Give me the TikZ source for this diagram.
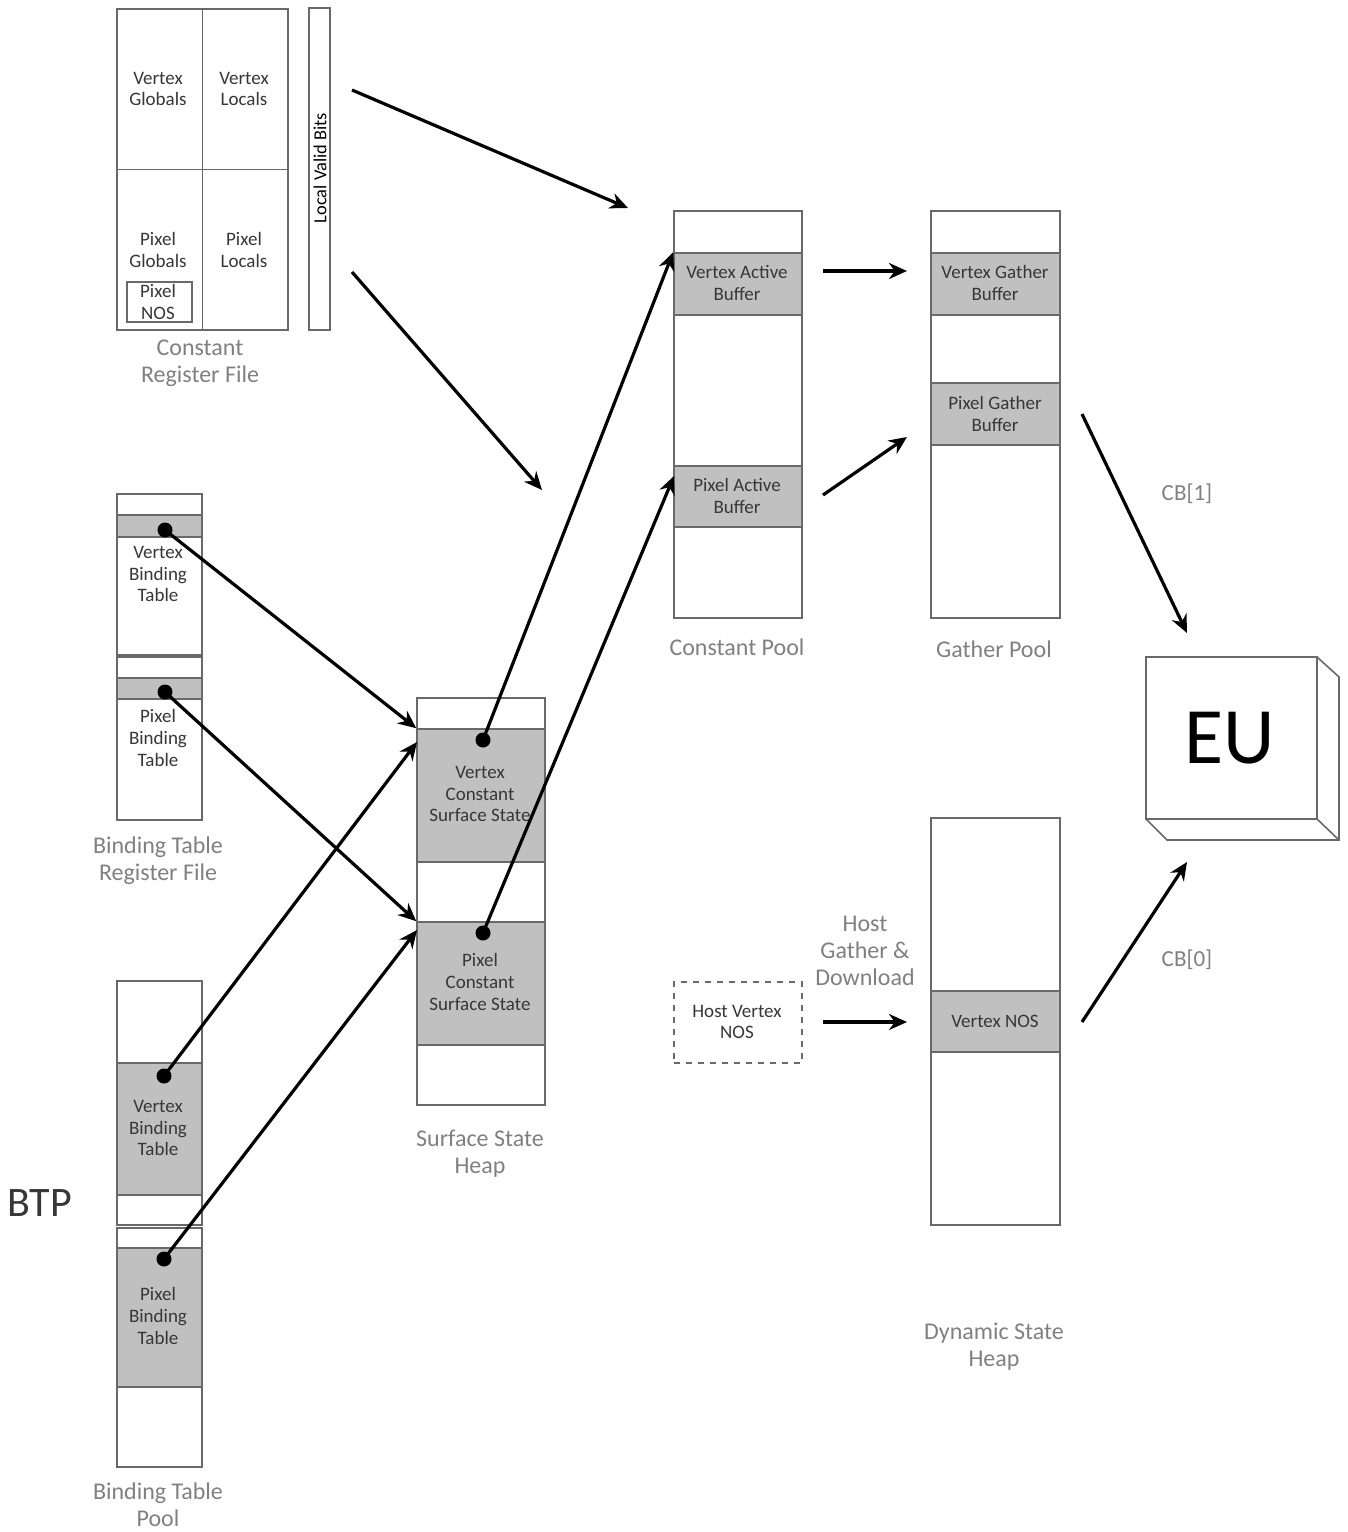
\documentclass[tikz,border=0pt]{standalone}
\usepackage{fontspec}
\setmainfont{Carlito}
\usetikzlibrary{positioning,arrows.meta,fit}
\definecolor{euLine}{RGB}{105,105,105}
\definecolor{euFill}{RGB}{192,192,192}
\definecolor{euText}{RGB}{55,55,55}
\definecolor{euCaption}{RGB}{128,128,128}

\begin{document}
\begin{tikzpicture}[x=0.5pt,y=-0.5pt,
  cell/.style={draw=euLine, line width=0.8pt, fill=white, inner sep=0pt},
  slot/.style={cell, fill=euFill},
  lbl/.style={text=euText, font=\fontsize{9.5}{10.8}\selectfont, align=center, inner sep=0pt},
  caption/.style={text=euCaption, font=\fontsize{12}{13.5}\selectfont, align=center, inner sep=0pt},
  link/.style={-{Stealth[length=9pt,width=8pt]}, line width=1.6pt},
  pin/.style={circle, fill=black, inner sep=0pt, minimum size=7.5pt}]
  \useasboundingbox (0,0) rectangle (1348,1532);

  % Constant register file
  \node[cell, fit={(117,9)(288,330)}] (crf) {};
  \draw[euLine, line width=0.8pt] (crf.north) -- (crf.south);
  \draw[euLine, line width=0.8pt] (crf.west) -- (crf.east);
  \node[lbl] (vglob) at (158,89) {Vertex\\Globals};
  \node[lbl] (vloc) at (244,89) {Vertex\\Locals};
  \node[lbl] (pglob) at (158,250) {Pixel\\Globals};
  \node[lbl] (ploc) at (244,250) {Pixel\\Locals};
  \node[cell, fit={(127,282)(192,322)}] (pnosbox) {};
  \node[lbl] (pnos) at (158,302) {Pixel\\NOS};
  \node[cell, fit={(309,8)(330,330)}] (lvb) {};
  \node[rotate=90, inner sep=0pt, font=\fontsize{9.2}{10}\selectfont] (lvbtext) at (320,168) {Local Valid Bits};
  \node[caption] (crfcap) at (200,363) {Constant\\Register File};

  % Binding table register file
  \node[cell, fit={(117,494)(202,655)}] (btrv) {};
  \node[slot, fit={(117,515)(202,537)}] (btrvs) {};
  \node[lbl] (btrvtext) at (158,574) {Vertex\\Binding\\Table};
  \node[cell, fit={(117,657)(202,820)}] (btrp) {};
  \node[slot, fit={(117,678)(202,699)}] (btrps) {};
  \node[lbl] (btrptext) at (158,738) {Pixel\\Binding\\Table};
  \node[caption] (btrcap) at (158,861) {Binding Table\\Register File};

  % Binding table pool
  \node[cell, fit={(117,981)(202,1225)}] (btpv) {};
  \node[slot, fit={(117,1063)(202,1195)}] (btpvs) {};
  \node[lbl] (btpvtext) at (158,1128) {Vertex\\Binding\\Table};
  \node[cell, fit={(117,1228)(202,1467)}] (btpp) {};
  \node[slot, fit={(117,1248)(202,1387)}] (btpps) {};
  \node[lbl] (btpptext) at (158,1316) {Pixel\\Binding\\Table};
  \node[caption] (btpcap) at (158,1505) {Binding Table\\Pool};
  \node[text=euText, inner sep=0pt, font=\fontsize{21}{24}\selectfont] (btp) at (40,1203) {BTP};

  % Surface state heap
  \node[cell, fit={(417,698)(545,1105)}] (ssh) {};
  \node[slot, fit={(417,729)(545,862)}] (vcss) {};
  \node[lbl] (vcsstext) at (480,794) {Vertex\\Constant\\Surface State};
  \node[slot, fit={(417,922)(545,1045)}] (pcss) {};
  \node[lbl] (pcsstext) at (480,982) {Pixel\\Constant\\Surface State};
  \node[caption] (sshcap) at (480,1154) {Surface State\\Heap};

  % Constant pool
  \node[cell, fit={(674,211)(802,618)}] (cp) {};
  \node[slot, fit={(674,253)(802,315)}] (vab) {};
  \node[lbl] (vabtext) at (737,283) {Vertex Active\\Buffer};
  \node[slot, fit={(674,466)(802,527)}] (pab) {};
  \node[lbl] (pabtext) at (737,496) {Pixel Active\\Buffer};
  \node[caption] (cpcap) at (737,647) {Constant Pool};

  % Gather pool
  \node[cell, fit={(931,211)(1060,618)}] (gp) {};
  \node[slot, fit={(931,253)(1060,315)}] (vgb) {};
  \node[lbl] (vgbtext) at (995,283) {Vertex Gather\\Buffer};
  \node[slot, fit={(931,383)(1060,445)}] (pgb) {};
  \node[lbl] (pgbtext) at (995,414) {Pixel Gather\\Buffer};
  \node[caption] (gpcap) at (994,649) {Gather Pool};

  % Dynamic state heap
  \node[cell, fit={(931,818)(1060,1225)}] (dsh) {};
  \node[slot, fit={(931,991)(1060,1052)}] (vnos) {};
  \node[lbl] (vnostext) at (995,1021) {Vertex NOS};
  \node[caption] (dshcap) at (994,1347) {Dynamic State\\Heap};
  \node[cell, dashed, fit={(674,982)(802,1063)}] (hvn) {};
  \node[lbl] (hvntext) at (737,1022) {Host Vertex\\NOS};
  \node[caption] (hgd) at (865,951) {Host\\Gather \&\\Download};

  % EU
  \draw[euLine, line width=0.8pt] (1317,657) -- (1339,677) -- (1339,840) -- (1167,840) -- (1146,819);
  \draw[euLine, line width=0.8pt] (1317,819) -- (1339,840);
  \node[cell, fit={(1146,657)(1317,819)}] (eu) {};
  \node[inner sep=0pt, font=\fontsize{40}{42}\selectfont] (eutext) at (1230,738) {EU};
  \node[caption, font=\fontsize{11.5}{13}\selectfont] (cb1) at (1187,494) {CB[1]};
  \node[caption, font=\fontsize{11.5}{13}\selectfont] (cb0) at (1187,960) {CB[0]};

  % Free arrow ends
  \coordinate (crfA) at (352,90);
  \coordinate (crfAend) at (628,208);
  \coordinate (crfB) at (352,272);
  \coordinate (crfBend) at (542,490);
  \coordinate (vabOut) at (823,271);
  \coordinate (vgbIn) at (907,271);
  \coordinate (pabOut) at (823,495);
  \coordinate (pgbIn) at (907,437);
  \coordinate (hvnOut) at (823,1022);
  \coordinate (vnosIn) at (907,1022);
  \coordinate (pgbOut) at (1082,414);
  \coordinate (euIn1) at (1187,633);
  \coordinate (vnosOut) at (1082,1022);
  \coordinate (euIn0) at (1187,862);
  \coordinate (pabIn) at (674,476);
  \coordinate (vcssIn) at (417,742);
  \coordinate (pcssIn) at (417,930);

  % Pointer dots
  \node[pin] (btrvDot) at (165,530) {};
  \node[pin] (btrpDot) at (165,692) {};
  \node[pin] (btpvDot) at (164,1076) {};
  \node[pin] (btppDot) at (164,1259) {};
  \node[pin] (vcssDot) at (483,740) {};
  \node[pin] (pcssDot) at (483,933) {};

  % Arrows
  \draw[link] (crfA) -- (crfAend);
  \draw[link] (crfB) -- (crfBend);
  \draw[link] (btrvDot.center) -- (vcss.north west);
  \draw[link] (btrpDot.center) -- (pcss.north west);
  \draw[link] (btpvDot.center) -- (vcssIn);
  \draw[link] (btppDot.center) -- (pcssIn);
  \draw[link] (vcssDot.center) -- (vab.north west);
  \draw[link] (pcssDot.center) -- (pabIn);
  \draw[link] (vabOut) -- (vgbIn);
  \draw[link] (pabOut) -- (pgbIn);
  \draw[link] (hvnOut) -- (vnosIn);
  \draw[link] (pgbOut) -- (euIn1);
  \draw[link] (vnosOut) -- (euIn0);
\end{tikzpicture}
\end{document}
